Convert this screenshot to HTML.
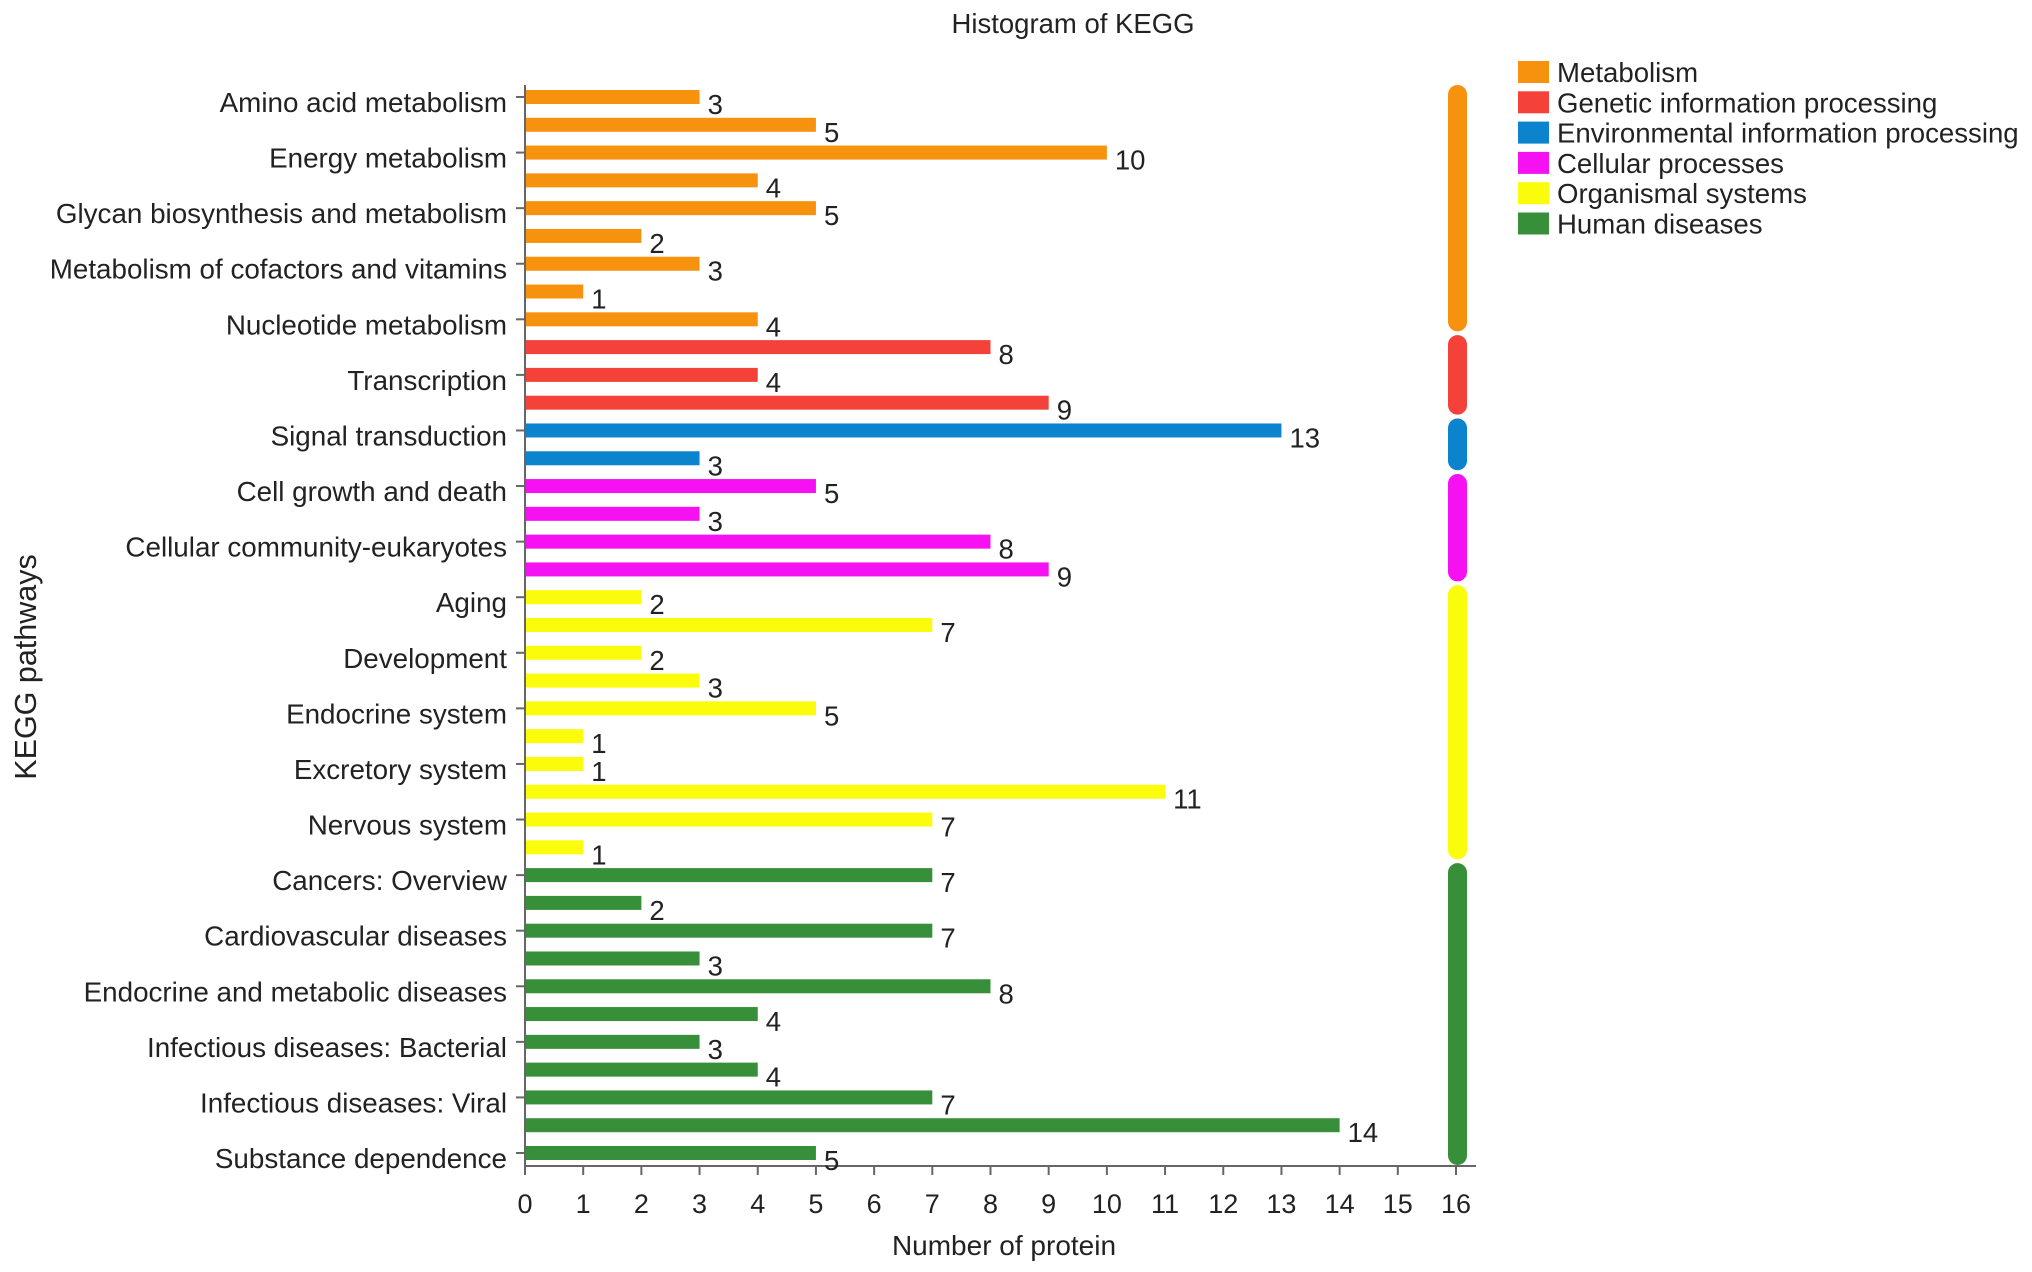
<!DOCTYPE html>
<html><head><meta charset="utf-8"><style>
html,body{margin:0;padding:0;background:#fff}
svg{display:block;font-family:"Liberation Sans",Arial,sans-serif}
</style></head><body>
<svg id="chart" width="2032" height="1272" viewBox="0 0 2032 1272">
<rect x="0" y="0" width="2032" height="1272" fill="#fff"/>
<text x="1073" y="33" font-size="27.5" text-anchor="middle" fill="#222">Histogram of KEGG</text>
<text x="0" y="0" transform="translate(36,667) rotate(-90)" font-size="30.5" text-anchor="middle" fill="#222">KEGG pathways</text>
<text x="1004" y="1255" font-size="28" text-anchor="middle" fill="#222">Number of protein</text>
<g id="plot"></g>
</svg>
<script>
const values = [3,5,10,4,5,2,3,1,4, 8,4,9, 13,3, 5,3,8,9, 2,7,2,3,5,1,1,11,7,1, 7,2,7,3,8,4,3,4,7,14,5];
const groupOf = [0,0,0,0,0,0,0,0,0, 1,1,1, 2,2, 3,3,3,3, 4,4,4,4,4,4,4,4,4,4, 5,5,5,5,5,5,5,5,5,5,5];
const categoryLabels = ["Amino acid metabolism","Energy metabolism","Glycan biosynthesis and metabolism","Metabolism of cofactors and vitamins","Nucleotide metabolism","Transcription","Signal transduction","Cell growth and death","Cellular community-eukaryotes","Aging","Development","Endocrine system","Excretory system","Nervous system","Cancers: Overview","Cardiovascular diseases","Endocrine and metabolic diseases","Infectious diseases: Bacterial","Infectious diseases: Viral","Substance dependence"];
const groupNames = ["Metabolism","Genetic information processing","Environmental information processing","Cellular processes","Organismal systems","Human diseases"];
const groupColors = ["#f7920f","#f4423a","#0b84cd","#f511f2","#fbfb0c","#378f3a"];
const xTicks = [0,1,2,3,4,5,6,7,8,9,10,11,12,13,14,15,16];

const NS = "http://www.w3.org/2000/svg";
const g = document.getElementById('plot');
const X0 = 525, X1 = 1456, XMAX = 16;
const Y0 = 97, STEP = (1153 - 97) / 38, AXY = 1166;
const xs = v => X0 + (X1 - X0) * v / XMAX;
const ys = i => Y0 + i * STEP;
function mk(tag, attrs, text) {
  const e = document.createElementNS(NS, tag);
  for (const k in attrs) e.setAttribute(k, attrs[k]);
  if (text !== undefined) e.textContent = text;
  g.appendChild(e);
  return e;
}
let e = mk('line', {x1: X0, y1: 85, x2: X0, y2: AXY, stroke: '#666', 'stroke-width': 2});


e = mk('line', {x1: X0, y1: AXY, x2: X1 + 20, y2: AXY, stroke: '#666', 'stroke-width': 2});


xTicks.forEach(t => {
  let tk = mk('line', {x1: xs(t), y1: AXY, x2: xs(t), y2: AXY + 9, stroke: '#666', 'stroke-width': 2});
  
  
  let tl = mk('text', {x: xs(t), y: AXY + 47, 'font-size': 27, 'text-anchor': 'middle', fill: '#222'}, String(t));
  
  
});
values.forEach((v, i) => {
  const y = ys(i);
  const b = mk('rect', {x: X0 + 1, y: y - 7, width: xs(v) - X0 - 1, height: 14, fill: groupColors[groupOf[i]]});
  
  
  const t = mk('text', {x: xs(v) + 8, y: y + 17, 'font-size': 27.5, fill: '#222'}, String(v));
  
  
});
categoryLabels.forEach((lab, k) => {
  const y = ys(k * 2);
  const tk = mk('line', {x1: X0 - 9, y1: y, x2: X0, y2: y, stroke: '#666', 'stroke-width': 2});
  
  
  const t = mk('text', {x: 507, y: y + 15, 'font-size': 27.8, 'text-anchor': 'end', fill: '#222'}, lab);
  
  
});
groupNames.forEach((n, gi) => {
  let first = groupOf.indexOf(gi), last = groupOf.lastIndexOf(gi);
  const y1 = ys(first) - 12, y2 = ys(last) + 12;
  const r = mk('rect', {x: 1448, y: y1, width: 19, height: y2 - y1, rx: 9.5, fill: groupColors[gi]});
  
  
  const ly = 72 + gi * 30.3;
  const s = mk('rect', {x: 1518, y: ly - 11, width: 31, height: 22, fill: groupColors[gi]});
  
  
  const t = mk('text', {x: 1557, y: ly + 10, 'font-size': 27.6, fill: '#222'}, n);
  
  
});
</script>
</body></html>
